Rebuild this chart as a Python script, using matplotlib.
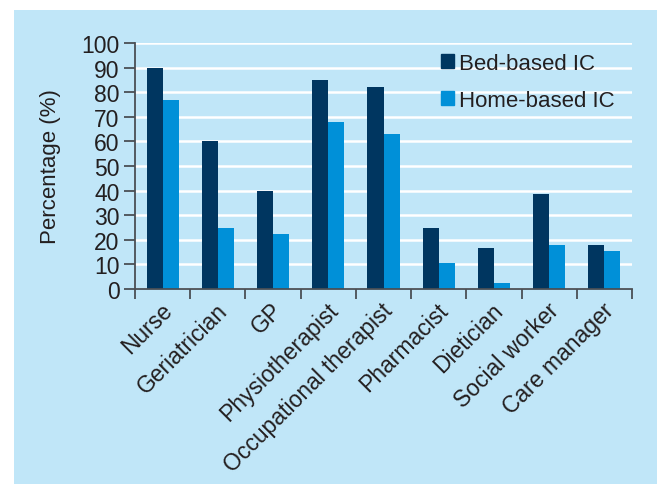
import numpy as np
import matplotlib.pyplot as plt
import matplotlib.transforms as mtransforms
from matplotlib.patches import Rectangle, Patch

plt.rcParams['font.family'] = ['Liberation Sans', 'DejaVu Sans']

roles = ['Nurse', 'Geriatrician', 'GP', 'Physiotherapist', 'Occupational therapist',
         'Pharmacist', 'Dietician', 'Social worker', 'Care manager']
bed_based = [90, 60, 40, 85, 82, 25, 16.5, 38.5, 18]
home_based = [77, 25, 22.5, 68, 63, 10.5, 2.5, 18, 15.5]

bg = '#c0e6f8'
dark = '#003660'
light = '#0090d8'
txt = '#231f20'
axc = '#4a4f55'

fig = plt.figure(figsize=(6.6, 4.85), dpi=100)
fig.patches.append(Rectangle((14 / 660, 0), (657 - 14) / 660, (485 - 11) / 485,
                             transform=fig.transFigure, facecolor=bg, edgecolor='none', zorder=-10))

ax = fig.add_axes([135 / 660, 1 - 290 / 485, (632 - 135) / 660, (290 - 44) / 485])
ax.set_facecolor('none')

x = np.arange(len(roles))
w = 0.29
ax.bar(x - w / 2, bed_based, w, color=dark, label='Bed-based IC', zorder=3)
ax.bar(x + w / 2, home_based, w, color=light, label='Home-based IC', zorder=3)

ax.set_xlim(-0.5, len(roles) - 0.5)
ax.set_ylim(0, 100)
ax.set_yticks(np.arange(0, 101, 10))
ax.yaxis.grid(True, color='white', linewidth=1.8, zorder=1)
ax.set_axisbelow(True)

for s in ['top', 'right']:
    ax.spines[s].set_visible(False)
for s in ['left', 'bottom']:
    ax.spines[s].set_color(axc)
    ax.spines[s].set_linewidth(1.3)
    ax.spines[s].set_zorder(4)

# ticks between the groups, labels at group centres
ax.set_xticks(np.arange(-0.5, len(roles)), minor=False)
ax.set_xticklabels([])
ax.set_xticks(x, minor=True)
ax.set_xticklabels(roles, minor=True, rotation=45, ha='right', va='center',
                   rotation_mode='anchor', fontsize=16.5, color=txt)
ax.tick_params(axis='x', which='major', direction='out', length=7, width=1.3, color=axc)
ax.tick_params(axis='x', which='minor', length=0, pad=14)
ax.tick_params(axis='y', direction='out', length=8, width=1.3, color=axc,
               labelsize=16.5, labelcolor=txt, pad=3)

# nudge the rotated labels a little to the right
shift = mtransforms.ScaledTranslation(6 / 100, 2 / 100, fig.dpi_scale_trans)
for lab in ax.get_xticklabels(minor=True):
    lab.set_transform(lab.get_transform() + shift)

ax.set_ylabel('Percentage (%)', fontsize=16, color=txt, labelpad=15)

ax.legend(handles=[Patch(color=dark), Patch(color=light)],
          labels=['Bed-based IC', 'Home-based IC'],
          loc='upper left', bbox_to_anchor=(0.575, 1.04), frameon=False,
          fontsize=16, handlelength=0.6, handleheight=0.6, handletextpad=0.2,
          labelspacing=0.7, labelcolor=txt)

fig.savefig('out.png', dpi=100)
